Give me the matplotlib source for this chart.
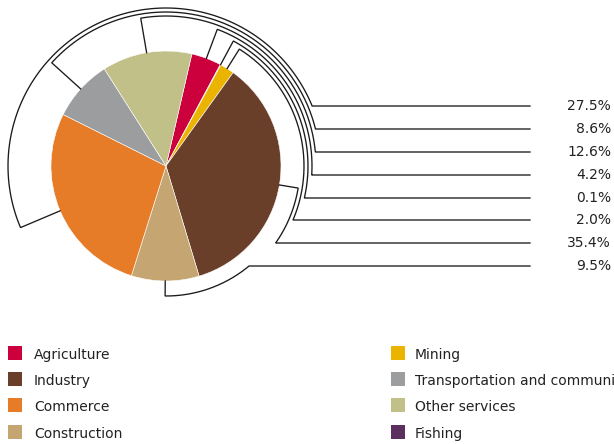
import matplotlib.pyplot as plt
from matplotlib.patches import Rectangle
import numpy as np

# slices in clockwise order, starting at the top
sectors = ['Agriculture', 'Fishing', 'Mining', 'Industry', 'Construction',
           'Commerce', 'Transportation and communications', 'Other services']
shares = [4.2, 0.1, 2.0, 35.4, 9.5, 27.5, 8.6, 12.6]
colors = ['#CC003D', '#5C2F5E', '#EBB400', '#6A3F29', '#C5A572',
          '#E67C27', '#9C9D9F', '#C2C089']

# order of the percentage labels, top to bottom
label_order = ['Commerce', 'Transportation and communications', 'Other services',
               'Agriculture', 'Fishing', 'Mining', 'Industry', 'Construction']
# legend, column by column
legend_order = ['Agriculture', 'Industry', 'Commerce', 'Construction',
                'Mining', 'Transportation and communications', 'Other services', 'Fishing']

W, H = 614, 444
fig = plt.figure(figsize=(W / 100, H / 100), dpi=100)
ax = fig.add_axes([0, 0, 1, 1])

cx, cy, R = 166, H - 166, 115
wedges, _ = ax.pie(shares, colors=colors, startangle=77, counterclock=False,
                   center=(cx, cy), radius=R,
                   wedgeprops=dict(linewidth=0.4, edgecolor='white'))

# brackets + leader lines
bracket_r = [158, 154, 150, 146, 142, 138, 134, 130]
leader_y = [106, 129, 152, 175, 198, 220, 243, 266]
x_end = 530
for name, r, ly in zip(label_order, bracket_r, leader_y):
    i = sectors.index(name)
    w = wedges[i]
    mid = (w.theta1 + w.theta2) / 2.0
    while mid <= -135:
        mid += 360
    while mid > 225:
        mid -= 360
    ly = H - ly
    end = np.degrees(np.arcsin((ly - cy) / r))
    t = np.radians(np.linspace(mid, end, 200))
    xs = [cx + R * np.cos(t[0])] + list(cx + r * np.cos(t)) + [x_end]
    ys = [cy + R * np.sin(t[0])] + list(cy + r * np.sin(t)) + [ly]
    ax.plot(xs, ys, color='#1a1a1a', lw=0.95, solid_joinstyle='miter')
    ax.text(611, ly, '{:.1f}%'.format(shares[i]), ha='right', va='center',
            fontsize=10, color='#222222')

# legend
col_x = [8, 391]
text_x = [34, 415]
row_y = [353.5, 379, 405, 431.5]
for k, name in enumerate(legend_order):
    c, rrow = divmod(k, 4)
    yc = H - row_y[rrow]
    ax.add_patch(Rectangle((col_x[c], yc - 7), 14, 14,
                           color=colors[sectors.index(name)], lw=0))
    ax.text(text_x[c], yc - 2, name, ha='left', va='center',
            fontsize=10, color='#222222')

ax.set_xlim(0, W)
ax.set_ylim(0, H)
ax.set_aspect('equal')
ax.axis('off')
fig.savefig('out.png', dpi=100)
